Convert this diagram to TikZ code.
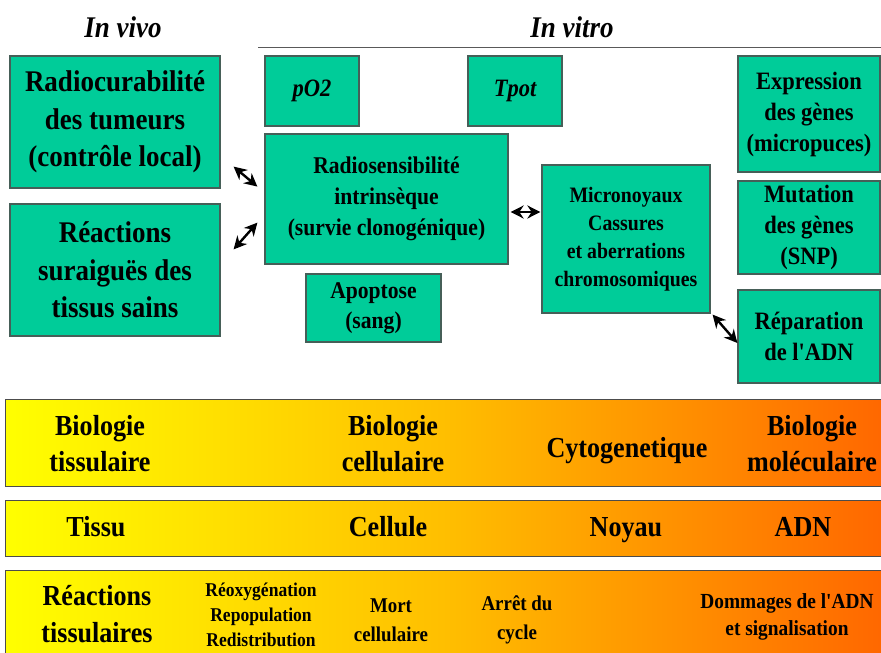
\documentclass[tikz,border=0pt]{standalone}
\usepackage{fontspec}
\setmainfont{Liberation Serif}[FakeStretch=0.9]
\newfontfamily\plainrm{Liberation Serif}[FakeStretch=0.9]
\usetikzlibrary{arrows.meta}
\definecolor{boxg}{RGB}{0,204,153}
\definecolor{boxline}{RGB}{70,95,88}
\definecolor{bandY}{RGB}{255,255,0}
\definecolor{bandM}{RGB}{255,190,0}
\definecolor{bandR}{RGB}{255,102,0}
\newcommand{\fsz}[2]{\fontsize{#1}{#2}\selectfont}
\newcommand{\apos}{{\plainrm\bfseries\char"0027}}
\begin{document}
\begin{tikzpicture}[x=1pt,y=-1pt,
  gbox/.style={draw=boxline, line width=1.2pt, fill=boxg, align=center, inner sep=0pt, font=\bfseries},
  dbl/.style={{Stealth[length=13pt,width=13pt]}-{Stealth[length=13pt,width=13pt]}, line width=2.4pt},
  band/.style={draw=gray!60!black, line width=1pt, left color=bandY, right color=bandR, middle color=bandM},
  btext/.style={align=center, inner sep=0pt, font=\bfseries}
]
\useasboundingbox (0,0) rectangle (881,653);
\clip (0,0) rectangle (881,653);
\fill[white] (0,0) rectangle (881,653);

% titles
\node[btext, font=\bfseries\itshape\fsz{30}{36}] (tvivo) at (123,27) {In vivo};
\node[btext, font=\bfseries\itshape\fsz{30}{36}] (tvitro) at (572,27) {In vitro};
\draw[gray!70!black, line width=1pt] (258,47) -- (881,47);

% boxes
\node[gbox, minimum width=210pt, minimum height=132pt, font=\bfseries\fsz{30}{37.5}] (rc) at (115,122)
  {Radiocurabilité\\des tumeurs\\(contrôle local)};
\node[gbox, minimum width=210pt, minimum height=132pt, font=\bfseries\fsz{30}{37.5}] (rb) at (115,270)
  {Réactions\\suraiguës des\\tissus sains};
\node[gbox, minimum width=94pt, minimum height=70pt, font=\bfseries\itshape\fsz{25}{30}] (po) at (312,91) {pO2};
\node[gbox, minimum width=94pt, minimum height=70pt, font=\bfseries\itshape\fsz{25}{30}] (tp) at (515,91) {Tpot};
\node[gbox, minimum width=243pt, minimum height=130pt, font=\bfseries\fsz{24}{31}] (rs) at (386.5,199)
  {Radiosensibilité\\intrinsèque\\(survie clonogénique)};
\node[gbox, minimum width=135pt, minimum height=68pt, font=\bfseries\fsz{24}{30}] (ap) at (373.5,308)
  {Apoptose\\(sang)};
\node[gbox, minimum width=168pt, minimum height=148pt, font=\bfseries\fsz{22}{28}] (mn) at (626,239)
  {Micronoyaux\\Cassures\\et aberrations\\chromosomiques};
\node[gbox, minimum width=142pt, minimum height=116pt, font=\bfseries\fsz{25}{31}] (ex) at (809,114)
  {Expression\\des gènes\\(micropuces)};
\node[gbox, minimum width=142pt, minimum height=93pt, font=\bfseries\fsz{25}{31}] (mu) at (809,227.5)
  {Mutation\\des gènes\\(SNP)};
\node[gbox, minimum width=142pt, minimum height=93pt, font=\bfseries\fsz{25}{31}] (rp) at (809,336.5)
  {Réparation\\de l\apos ADN};

% arrows
\draw[dbl] ([shift={(13,-22)}]rc.south east) -- ([shift={(-7,-78)}]rs.south west);
\draw[dbl] ([shift={(13,46)}]rb.north east) -- ([shift={(-7,-42)}]rs.south west);
\draw[dbl] ([shift={(2,13)}]rs.east) -- ([shift={(-1,-27)}]mn.west);
\draw[dbl] ([shift={(2,1)}]mn.south east) -- ([shift={(0,6.5)}]rp.west);

% bands
\draw[band] (5,399) rectangle (890,486);
\draw[band] (5,500) rectangle (890,556);
\draw[band] (5,570) rectangle (890,670);

\node[btext, font=\bfseries\fsz{29}{36}] (b1a) at (100,444) {Biologie\\tissulaire};
\node[btext, font=\bfseries\fsz{29}{36}] (b1b) at (393,444) {Biologie\\cellulaire};
\node[btext, font=\bfseries\fsz{29}{36}, anchor=base] (b1c) at (627,457) {Cytogenetique};
\node[btext, font=\bfseries\fsz{29}{36}] (b1d) at (812,444) {Biologie\\moléculaire};

\node[btext, font=\bfseries\fsz{29}{36}, anchor=base] (b2a) at (96,536) {Tissu};
\node[btext, font=\bfseries\fsz{29}{36}, anchor=base] (b2b) at (388,536) {Cellule};
\node[btext, font=\bfseries\fsz{29}{36}, anchor=base] (b2c) at (626,536) {Noyau};
\node[btext, font=\bfseries\fsz{29}{36}, anchor=base] (b2d) at (803,536) {ADN};

\node[btext, font=\bfseries\fsz{29}{37}] (b3a) at (97,614) {Réactions\\tissulaires};
\node[btext, font=\bfseries\fsz{19.5}{25}] (b3b) at (261,615) {Réoxygénation\\Repopulation\\Redistribution};
\node[btext, font=\bfseries\fsz{21}{29}] (b3c) at (391,620) {Mort\\cellulaire};
\node[btext, font=\bfseries\fsz{21}{29}] (b3d) at (517,620) {Arrêt du\\cycle};
\node[btext, font=\bfseries\fsz{21.5}{27}] (b3e) at (787,617) {Dommages de l\apos ADN\\et signalisation};
\end{tikzpicture}
\end{document}
